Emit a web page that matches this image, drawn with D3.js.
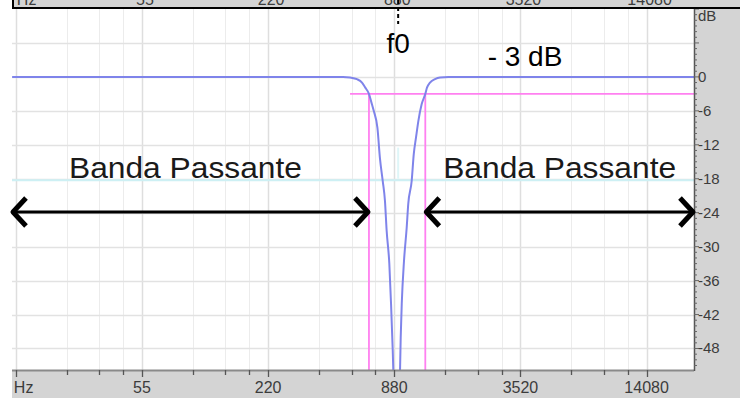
<!DOCTYPE html>
<html>
<head>
<meta charset="utf-8">
<script src="https://cdn.jsdelivr.net/npm/d3@7"></script>
<style>
  html, body { margin: 0; padding: 0; background: #ffffff; }
  svg { display: block; }
  text { font-family: "Liberation Sans", Arial, sans-serif; }
</style>
</head>
<body>
<svg id="chart" width="740" height="398"></svg>
<script>
// Frequency response of a notch (band-stop) filter centred near 880 Hz.
const freqDomain = [13.18, 23700];          // Hz, left and right edge of the plot
const dbDomain = [12, -51.8];               // dB, top and bottom edge of the plot

const majorFreqs = [13.75, 55, 220, 880, 3520, 14080];
const majorLabels = ["Hz", "55", "220", "880", "3520", "14080"];
const dbTicks = [0, -6, -12, -18, -24, -30, -36, -42, -48];
const dbTickLabels = ["0", "-6", "-12", "-18", "-24", "-30", "-36", "-42", "-48"];
const dbGrid = [6, 0, -6, -12, -18, -24, -30, -36, -42, -48];

// measured response (Hz, dB)
const respFreq = [13.2, 480, 501, 541, 584, 617, 640, 666, 684, 702, 731, 752, 775, 794, 809, 833, 849, 865, 880, 903,
                  930, 944, 955, 979, 1008, 1026, 1065, 1090, 1117, 1146, 1189, 1237, 1260, 1303, 1376, 1454, 1593, 23700];
const respDb   = [0, 0, 0, -0.1, -0.4, -1.0, -1.9, -3.0, -4.5, -6.0, -9.0, -14.5, -18.4, -21.9, -27.2, -33.0, -40.1, -48.4, -58, -70,
                  -58, -46.1, -40.1, -32.5, -26.7, -22.4, -18.4, -13.6, -10.7, -7.8, -4.8, -3.0, -1.9, -1.0, -0.4, -0.1, 0, 0];

// -3 dB markers
const cutLevel = -3;
const cutFreqs = [666, 1237];
const cutLineStart = 541;                    // Hz, where the -3 dB guide begins
const f0 = 918;                              // Hz, centre frequency marker
const refLevel = -18;                        // dB, reference guide

const W = 740, H = 398;
const plot = { left: 12, right: 694, top: 9, bottom: 370 };

const svg = d3.select("#chart");

const x = d3.scaleLog().domain(freqDomain).range([plot.left, plot.right]);
const y = d3.scaleLinear().domain(dbDomain).range([plot.top, plot.bottom]);

// minor frequency ticks: three linear steps between neighbouring majors
const minorFreqs = [];
for (let i = 0; i < majorFreqs.length; i++) {
  const a = majorFreqs[i], b = a * 4;
  for (let k = 1; k < 4; k++) {
    const f = a + k * (b - a) / 4;
    if (f < freqDomain[1]) minorFreqs.push(f);
  }
}
const allFreqTicks = majorFreqs.concat(minorFreqs);

// panel background
svg.append("rect").attr("x", plot.left).attr("y", plot.top)
  .attr("width", W - plot.left).attr("height", H - plot.top).attr("fill", "#d4d4d4");
svg.append("rect").attr("x", plot.left).attr("y", plot.top)
  .attr("width", plot.right - plot.left).attr("height", plot.bottom - plot.top).attr("fill", "#ffffff");

// grid
const grid = svg.append("g");
grid.selectAll("line.v").data(allFreqTicks).join("line")
  .attr("x1", d => Math.round(x(d)) + 0.5).attr("x2", d => Math.round(x(d)) + 0.5)
  .attr("y1", plot.top).attr("y2", plot.bottom)
  .attr("stroke", d => majorFreqs.includes(d) ? "#dedede" : "#ececec").attr("stroke-width", d => majorFreqs.includes(d) ? 1.5 : 1);
grid.selectAll("line.h").data(dbGrid).join("line")
  .attr("x1", plot.left).attr("x2", plot.right)
  .attr("y1", d => Math.round(y(d)) + 0.5).attr("y2", d => Math.round(y(d)) + 0.5)
  .attr("stroke", "#e2e2e2").attr("stroke-width", 1.5);

// reference guide at -18 dB
svg.append("line").attr("x1", plot.left).attr("x2", plot.right)
  .attr("y1", y(refLevel) + 1.5).attr("y2", y(refLevel) + 1.5)
  .attr("stroke", "#cdf0f4").attr("stroke-width", 2);
svg.append("line").attr("x1", x(f0)).attr("x2", x(f0))
  .attr("y1", y(-12.5)).attr("y2", y(refLevel))
  .attr("stroke", "#dff6f8").attr("stroke-width", 2);

// -3 dB guides
const pink = "#ff80f0";
svg.append("line").attr("x1", x(cutLineStart)).attr("x2", plot.right)
  .attr("y1", y(cutLevel)).attr("y2", y(cutLevel))
  .attr("stroke", pink).attr("stroke-width", 1.8);
svg.selectAll("line.cut").data(cutFreqs).join("line")
  .attr("x1", d => x(d)).attr("x2", d => x(d))
  .attr("y1", y(cutLevel)).attr("y2", plot.bottom)
  .attr("stroke", pink).attr("stroke-width", 1.8);

// response curve
svg.append("clipPath").attr("id", "plotClip").append("rect")
  .attr("x", plot.left).attr("y", plot.top)
  .attr("width", plot.right - plot.left).attr("height", plot.bottom - plot.top);
const line = d3.line().x(d => x(d[0])).y(d => y(d[1])).curve(d3.curveMonotoneX);
svg.append("path").datum(respFreq.map((f, i) => [f, respDb[i]]))
  .attr("clip-path", "url(#plotClip)")
  .attr("d", line).attr("fill", "none")
  .attr("stroke", "#7f84ea").attr("stroke-width", 2);

// bottom frequency axis
const axisColor = "#8a8a8a";
svg.append("line").attr("x1", plot.left).attr("x2", plot.right)
  .attr("y1", plot.bottom + 0.5).attr("y2", plot.bottom + 0.5)
  .attr("stroke", axisColor).attr("stroke-width", 2);
svg.selectAll("line.xt").data(allFreqTicks).join("line")
  .attr("x1", d => Math.round(x(d)) + 0.5).attr("x2", d => Math.round(x(d)) + 0.5)
  .attr("y1", plot.bottom).attr("y2", d => plot.bottom + (majorFreqs.includes(d) ? 7 : 5))
  .attr("stroke", "#555").attr("stroke-width", 1.3);
const freqLabel = sel => sel
  .attr("text-anchor", d => d === majorFreqs[0] ? "start" : "middle")
  .attr("dx", d => d === majorFreqs[0] ? -2 : 0)
  .attr("font-size", 16).attr("fill", "#3c3c3c")
  .text((d, i) => majorLabels[i]);
svg.selectAll("text.xl").data(majorFreqs).join("text")
  .attr("x", d => x(d)).attr("y", 393)
  .call(freqLabel);

// right dB axis
svg.append("line").attr("x1", plot.right + 0.5).attr("x2", plot.right + 0.5)
  .attr("y1", plot.top).attr("y2", plot.bottom + 1)
  .attr("stroke", "#555").attr("stroke-width", 1.5);
const dbMinor = d3.range(12, -52, -1);
svg.selectAll("line.yt").data(dbMinor).join("line")
  .attr("x1", plot.right).attr("x2", d => plot.right + (d % 6 === 0 ? 5 : 3))
  .attr("y1", d => y(d)).attr("y2", d => y(d))
  .attr("stroke", "#666").attr("stroke-width", 1);
svg.selectAll("text.yl").data(dbTicks).join("text")
  .attr("x", 698).attr("y", d => y(d) + 5)
  .attr("font-size", 15).attr("fill", "#3c3c3c")
  .text((d, i) => dbTickLabels[i]);
svg.append("text").attr("x", 698).attr("y", 21)
  .attr("font-size", 15).attr("fill", "#3c3c3c").text("dB");

// upper frequency strip (partly hidden)
svg.append("rect").attr("x", 13).attr("y", 0).attr("width", W - 13).attr("height", 8).attr("fill", "#d4d4d4");
svg.append("clipPath").attr("id", "stripClip").append("rect")
  .attr("x", 13).attr("y", 0).attr("width", W - 13).attr("height", 7);
svg.append("g").attr("clip-path", "url(#stripClip)")
  .selectAll("text").data(majorFreqs).join("text")
  .attr("x", d => x(d) + 3).attr("y", 5)
  .call(freqLabel);
svg.append("path").attr("d", `M13,0 V8 H${W}`).attr("fill", "none").attr("stroke", "#000").attr("stroke-width", 2);

// f0 marker
svg.append("line").attr("x1", x(f0)).attr("x2", x(f0)).attr("y1", 0).attr("y2", 24)
  .attr("stroke", "#000").attr("stroke-width", 2).attr("stroke-dasharray", "4,3");
svg.append("text").attr("x", x(f0)).attr("y", 53).attr("text-anchor", "middle")
  .attr("font-size", 28).attr("fill", "#000").text("f0");
svg.append("text").attr("x", 525).attr("y", 66).attr("text-anchor", "middle")
  .attr("font-size", 28).attr("fill", "#000").text("- 3 dB");

// pass-band labels and arrows
const bands = [[freqDomain[0], cutFreqs[0]], [cutFreqs[1], freqDomain[1]]];
const labelShift = [-5, 0];
const arrowY = 212;
const bandG = svg.append("g");
bands.forEach(([a, b], i) => {
  const x1 = x(a), x2 = x(b);
  const g = bandG.append("g");
  g.append("text").attr("x", (x1 + x2) / 2 + labelShift[i]).attr("y", 178).attr("text-anchor", "middle")
    .attr("font-size", 29).attr("textLength", 233).attr("lengthAdjust", "spacingAndGlyphs")
    .attr("fill", "#1a1a1a").text("Banda Passante");
  g.append("line").attr("x1", x1 + 2).attr("x2", x2 - 2).attr("y1", arrowY).attr("y2", arrowY)
    .attr("stroke", "#000").attr("stroke-width", 3);
  g.append("path").attr("d", `M${x1 + 14},${arrowY - 14} L${x1 + 1},${arrowY} L${x1 + 14},${arrowY + 14}`)
    .attr("fill", "none").attr("stroke", "#000").attr("stroke-width", 5).attr("stroke-linejoin", "round");
  g.append("path").attr("d", `M${x2 - 14},${arrowY - 14} L${x2 - 1},${arrowY} L${x2 - 14},${arrowY + 14}`)
    .attr("fill", "none").attr("stroke", "#000").attr("stroke-width", 5).attr("stroke-linejoin", "round");
});
</script>
</body>
</html>
